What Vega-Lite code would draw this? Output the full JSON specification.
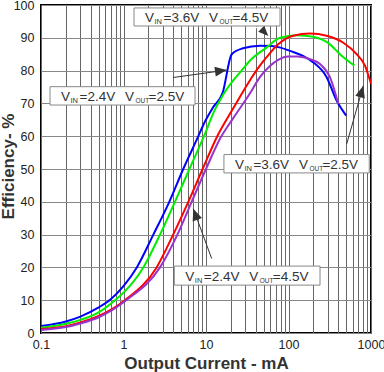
{
  "$schema": "https://vega.github.io/schema/vega-lite/v6.json",
  "width": 330,
  "height": 328,
  "autosize": {"type": "none"},
  "padding": {"left": 41, "top": 5, "right": 13, "bottom": 39},
  "background": "white",
  "config": {
    "font": "Liberation Sans",
    "view": {"stroke": "black", "strokeWidth": 2},
    "axis": {"labelOverlap": false, "labelSeparation": 0}
  },
  "datasets": {
    "curves": [
      {"s": "blue", "I": 0.1, "eff": 2.1}, {"s": "blue", "I": 0.2, "eff": 3.5}, {"s": "blue", "I": 0.3, "eff": 5.0}, {"s": "blue", "I": 0.5, "eff": 7.8}, {"s": "blue", "I": 0.7, "eff": 10.3}, {"s": "blue", "I": 1, "eff": 14.3}, {"s": "blue", "I": 1.45, "eff": 20}, {"s": "blue", "I": 2.3, "eff": 30}, {"s": "blue", "I": 3.59, "eff": 40}, {"s": "blue", "I": 5.3, "eff": 50}, {"s": "blue", "I": 8.07, "eff": 60}, {"s": "blue", "I": 9.3, "eff": 63.5}, {"s": "blue", "I": 12.2, "eff": 68.8}, {"s": "blue", "I": 15.9, "eff": 73.2}, {"s": "blue", "I": 20.5, "eff": 85}, {"s": "blue", "I": 28, "eff": 86.8}, {"s": "blue", "I": 45, "eff": 87.6}, {"s": "blue", "I": 62, "eff": 87.5}, {"s": "blue", "I": 80, "eff": 87}, {"s": "blue", "I": 104, "eff": 86}, {"s": "blue", "I": 150, "eff": 84.5}, {"s": "blue", "I": 200, "eff": 82.5}, {"s": "blue", "I": 290, "eff": 78}, {"s": "blue", "I": 384, "eff": 70.8}, {"s": "blue", "I": 500, "eff": 66.3},
      {"s": "green", "I": 0.1, "eff": 1.6}, {"s": "green", "I": 0.2, "eff": 2.8}, {"s": "green", "I": 0.3, "eff": 4.0}, {"s": "green", "I": 0.5, "eff": 6.3}, {"s": "green", "I": 0.79, "eff": 10}, {"s": "green", "I": 1, "eff": 12.3}, {"s": "green", "I": 1.74, "eff": 20}, {"s": "green", "I": 2.77, "eff": 30}, {"s": "green", "I": 4.2, "eff": 40}, {"s": "green", "I": 6.3, "eff": 50}, {"s": "green", "I": 9.46, "eff": 60}, {"s": "green", "I": 12.5, "eff": 67.5}, {"s": "green", "I": 16, "eff": 72.5}, {"s": "green", "I": 21.4, "eff": 77}, {"s": "green", "I": 27, "eff": 80}, {"s": "green", "I": 34, "eff": 83}, {"s": "green", "I": 54, "eff": 87}, {"s": "green", "I": 79, "eff": 90}, {"s": "green", "I": 126, "eff": 90.8}, {"s": "green", "I": 200, "eff": 90.3}, {"s": "green", "I": 318, "eff": 88}, {"s": "green", "I": 420, "eff": 85}, {"s": "green", "I": 630, "eff": 81.5},
      {"s": "red", "I": 0.1, "eff": 1.2}, {"s": "red", "I": 0.2, "eff": 2.1}, {"s": "red", "I": 0.3, "eff": 3.2}, {"s": "red", "I": 0.5, "eff": 5.2}, {"s": "red", "I": 1.04, "eff": 10}, {"s": "red", "I": 2.52, "eff": 20}, {"s": "red", "I": 4.0, "eff": 30}, {"s": "red", "I": 6.1, "eff": 40}, {"s": "red", "I": 9.1, "eff": 50}, {"s": "red", "I": 13.7, "eff": 60}, {"s": "red", "I": 21.4, "eff": 68.5}, {"s": "red", "I": 34, "eff": 77}, {"s": "red", "I": 45, "eff": 81.5}, {"s": "red", "I": 54, "eff": 84}, {"s": "red", "I": 75, "eff": 88}, {"s": "red", "I": 114, "eff": 90.6}, {"s": "red", "I": 182, "eff": 91.3}, {"s": "red", "I": 290, "eff": 90.6}, {"s": "red", "I": 462, "eff": 88.5}, {"s": "red", "I": 670, "eff": 85}, {"s": "red", "I": 845, "eff": 81.5}, {"s": "red", "I": 1000, "eff": 76},
      {"s": "purple", "I": 0.1, "eff": 0.9}, {"s": "purple", "I": 0.2, "eff": 1.8}, {"s": "purple", "I": 0.3, "eff": 2.9}, {"s": "purple", "I": 0.5, "eff": 4.8}, {"s": "purple", "I": 1.08, "eff": 10}, {"s": "purple", "I": 2.77, "eff": 20}, {"s": "purple", "I": 4.5, "eff": 30}, {"s": "purple", "I": 6.7, "eff": 40}, {"s": "purple", "I": 10, "eff": 50}, {"s": "purple", "I": 15, "eff": 59.5}, {"s": "purple", "I": 21.4, "eff": 65.5}, {"s": "purple", "I": 34, "eff": 73}, {"s": "purple", "I": 45, "eff": 78}, {"s": "purple", "I": 60, "eff": 81.5}, {"s": "purple", "I": 75, "eff": 83.3}, {"s": "purple", "I": 100, "eff": 84.3}, {"s": "purple", "I": 130, "eff": 84.3}, {"s": "purple", "I": 182, "eff": 83.5}, {"s": "purple", "I": 241, "eff": 82}, {"s": "purple", "I": 318, "eff": 78}, {"s": "purple", "I": 402, "eff": 69.8}
    ],
    "boxes": [
      {"I": 1.341, "I2": 78.9, "eff": 93.6, "eff2": 99.1, "vin": "=3.6V", "vout": "=4.5V"},
      {"I": 0.1286, "I2": 7.36, "eff": 69.5, "eff2": 75.1, "vin": "=2.4V", "vout": "=2.5V"},
      {"I": 16.5, "I2": 952, "eff": 48.8, "eff2": 54.4, "vin": "=3.6V", "vout": "=2.5V"},
      {"I": 4.13, "I2": 241, "eff": 14.6, "eff2": 20.4, "vin": "=2.4V", "vout": "=4.5V"}
    ],
    "arrows": [
      {"a": 1, "I": 4.015, "eff": 77.9, "I2": 17.82, "eff2": 80.15},
      {"a": 2, "I": 40.4, "eff": 93.3, "I2": 56.9, "eff2": 90.58},
      {"a": 3, "I": 507.6, "eff": 57.66, "I2": 806.6, "eff2": 75.38},
      {"a": 4, "I": 11.72, "eff": 22.7, "I2": 7.015, "eff2": 37.9}
    ]
  },
  "layer": [
    {
      "data": {"name": "curves"},
      "transform": [{"filter": "datum.s === 'blue'"}],
      "mark": {"type": "line", "color": "#0000ff", "strokeWidth": 2, "interpolate": "monotone", "clip": true},
      "encoding": {
        "x": {
          "field": "I", "type": "quantitative",
          "scale": {"type": "log", "domain": [0.1, 1000], "nice": false},
          "axis": {
            "title": "Output Current - mA",
            "values": [0.1, 0.2, 0.3, 0.4, 0.5, 0.6, 0.7, 0.8, 0.9, 1, 2, 3, 4, 5, 6, 7, 8, 9, 10, 20, 30, 40, 50, 60, 70, 80, 90, 100, 200, 300, 400, 500, 600, 700, 800, 900, 1000],
            "tickCount": 100,
            "labelExpr": "datum.value == 0.1 ? '0.1' : datum.value == 1 ? '1' : datum.value == 10 ? '10' : datum.value == 100 ? '100' : datum.value >= 999 ? '1000' : ''",
            "labelOverlap": false,
            "labelFlush": false,
            "labelBound": false,
            "labelFontSize": 12.5,
            "labelColor": "#222",
            "labelPadding": 5,
            "ticks": false,
            "domain": false,
            "grid": true,
            "gridColor": "#666",
            "gridWidth": 1,
            "gridOpacity": 1,
            "titleFontSize": 17,
            "titleFontWeight": "bold",
            "titleColor": "#333",
            "titlePadding": 5
          }
        },
        "y": {
          "field": "eff", "type": "quantitative",
          "scale": {"domain": [0, 100], "nice": false},
          "axis": {
            "title": "Efficiency- %",
            "values": [0, 10, 20, 30, 40, 50, 60, 70, 80, 90, 100],
            "tickCount": 100,
            "labelOverlap": false,
            "labelFlush": false,
            "labelBound": false,
            "labelFontSize": 12.5,
            "labelColor": "#222",
            "labelPadding": 7,
            "ticks": false,
            "domain": false,
            "grid": true,
            "gridColor": "#888",
            "gridWidth": 1,
            "gridOpacity": 1,
            "titleFontSize": 17,
            "titleFontWeight": "bold",
            "titleColor": "#333",
            "titleBaseline": "alphabetic",
            "titleX": -28,
            "titleY": 161,
            "titleAngle": 270
          }
        }
      }
    },
    {
      "data": {"name": "curves"},
      "transform": [{"filter": "datum.s === 'green'"}],
      "mark": {"type": "line", "color": "#00ee00", "strokeWidth": 2, "interpolate": "monotone", "clip": true},
      "encoding": {"x": {"field": "I", "type": "quantitative"}, "y": {"field": "eff", "type": "quantitative"}}
    },
    {
      "data": {"name": "curves"},
      "transform": [{"filter": "datum.s === 'red'"}],
      "mark": {"type": "line", "color": "#ff0000", "strokeWidth": 2, "interpolate": "monotone", "clip": true},
      "encoding": {"x": {"field": "I", "type": "quantitative"}, "y": {"field": "eff", "type": "quantitative"}}
    },
    {
      "data": {"name": "curves"},
      "transform": [{"filter": "datum.s === 'purple'"}],
      "mark": {"type": "line", "color": "#9933cc", "strokeWidth": 2, "interpolate": "monotone", "clip": true},
      "encoding": {"x": {"field": "I", "type": "quantitative"}, "y": {"field": "eff", "type": "quantitative"}}
    },
    {
      "data": {"name": "arrows"},
      "transform": [{"filter": "datum.a !== 2"}],
      "mark": {"type": "rule", "color": "#333", "strokeWidth": 1},
      "encoding": {"x": {"field": "I", "type": "quantitative"}, "y": {"field": "eff", "type": "quantitative"}, "x2": {"field": "I2"}, "y2": {"field": "eff2"}}
    },
    {
      "data": {"name": "arrows"},
      "transform": [{"filter": "datum.a === 2"}],
      "mark": {"type": "rule", "color": "#ffffff", "strokeWidth": 1.5},
      "encoding": {"x": {"field": "I", "type": "quantitative"}, "y": {"field": "eff", "type": "quantitative"}, "x2": {"field": "I2"}, "y2": {"field": "eff2"}}
    },
    {
      "data": {"name": "arrows"},
      "transform": [{"filter": "datum.a === 1"}],
      "mark": {"type": "point", "shape": "M0,0L-1,-0.42L-1,0.42Z", "filled": true, "color": "#333", "opacity": 1, "size": 550, "angle": 352},
      "encoding": {"x": {"field": "I2", "type": "quantitative"}, "y": {"field": "eff2", "type": "quantitative"}}
    },
    {
      "data": {"name": "arrows"},
      "transform": [{"filter": "datum.a === 2"}],
      "mark": {"type": "point", "shape": "M0,0L-1,-0.42L-1,0.42Z", "filled": true, "color": "#333", "opacity": 1, "size": 400, "angle": 45},
      "encoding": {"x": {"field": "I2", "type": "quantitative"}, "y": {"field": "eff2", "type": "quantitative"}}
    },
    {
      "data": {"name": "arrows"},
      "transform": [{"filter": "datum.a === 3"}],
      "mark": {"type": "point", "shape": "M0,0L-1,-0.42L-1,0.42Z", "filled": true, "color": "#333", "opacity": 1, "size": 550, "angle": 286},
      "encoding": {"x": {"field": "I2", "type": "quantitative"}, "y": {"field": "eff2", "type": "quantitative"}}
    },
    {
      "data": {"name": "arrows"},
      "transform": [{"filter": "datum.a === 4"}],
      "mark": {"type": "point", "shape": "M0,0L-1,-0.42L-1,0.42Z", "filled": true, "color": "#333", "opacity": 1, "size": 550, "angle": 250},
      "encoding": {"x": {"field": "I2", "type": "quantitative"}, "y": {"field": "eff2", "type": "quantitative"}}
    },
    {
      "data": {"name": "boxes"},
      "mark": {"type": "rect", "fill": "white", "stroke": "#888", "strokeWidth": 1},
      "encoding": {"x": {"field": "I", "type": "quantitative"}, "x2": {"field": "I2"}, "y": {"field": "eff", "type": "quantitative"}, "y2": {"field": "eff2"}}
    },
    {
      "data": {"name": "boxes"},
      "mark": {"type": "text", "text": "V", "align": "left", "baseline": "alphabetic", "dx": 11, "dy": -4, "fontSize": 13.5, "color": "#333"},
      "encoding": {"x": {"field": "I", "type": "quantitative"}, "y": {"field": "eff", "type": "quantitative"}}
    },
    {
      "data": {"name": "boxes"},
      "mark": {"type": "text", "text": "IN", "align": "left", "baseline": "alphabetic", "dx": 20.5, "dy": -2.3, "fontSize": 7.5, "color": "#333"},
      "encoding": {"x": {"field": "I", "type": "quantitative"}, "y": {"field": "eff", "type": "quantitative"}}
    },
    {
      "data": {"name": "boxes"},
      "mark": {"type": "text", "align": "left", "baseline": "alphabetic", "dx": 29.5, "dy": -4, "fontSize": 13.5, "color": "#333"},
      "encoding": {"x": {"field": "I", "type": "quantitative"}, "y": {"field": "eff", "type": "quantitative"}, "text": {"field": "vin"}}
    },
    {
      "data": {"name": "boxes"},
      "mark": {"type": "text", "text": "V", "align": "left", "baseline": "alphabetic", "dx": 75, "dy": -4, "fontSize": 13.5, "color": "#333"},
      "encoding": {"x": {"field": "I", "type": "quantitative"}, "y": {"field": "eff", "type": "quantitative"}}
    },
    {
      "data": {"name": "boxes"},
      "mark": {"type": "text", "text": "OUT", "align": "left", "baseline": "alphabetic", "dx": 85.5, "dy": -2.3, "fontSize": 6.5, "color": "#333"},
      "encoding": {"x": {"field": "I", "type": "quantitative"}, "y": {"field": "eff", "type": "quantitative"}}
    },
    {
      "data": {"name": "boxes"},
      "mark": {"type": "text", "align": "left", "baseline": "alphabetic", "dx": 98.5, "dy": -4, "fontSize": 13.5, "color": "#333"},
      "encoding": {"x": {"field": "I", "type": "quantitative"}, "y": {"field": "eff", "type": "quantitative"}, "text": {"field": "vout"}}
    }
  ]
}
